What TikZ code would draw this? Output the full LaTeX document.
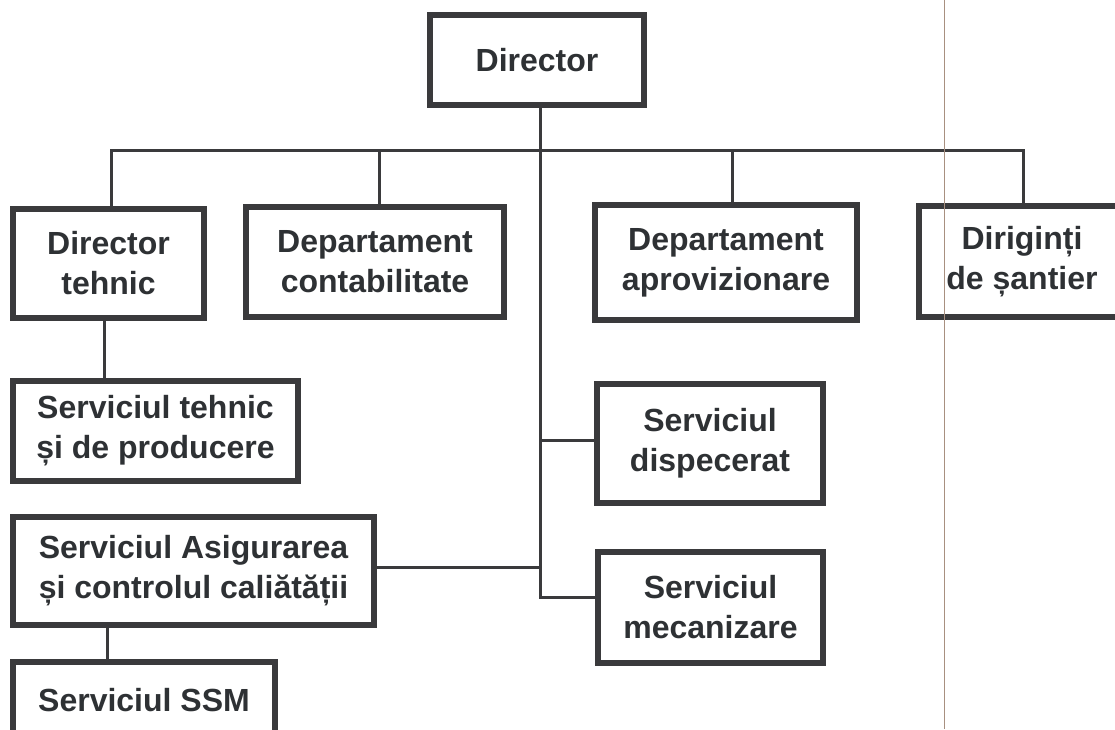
\documentclass[tikz,border=0pt]{standalone}
\usepackage{fontspec}
\setmainfont{Liberation Sans}
\definecolor{boxline}{HTML}{3A3A3C}
\definecolor{txt}{HTML}{2E3134}
\definecolor{crease}{HTML}{A89080}
\begin{document}
\begin{tikzpicture}[x=1pt,y=-1pt,
  orgbox/.style={draw=boxline, line width=5.5pt, inner sep=0pt, align=center,
    text=txt, font=\fontsize{32}{40}\selectfont\bfseries, miter limit=10},
  link/.style={draw=boxline, line width=3pt}]
\useasboundingbox (0,0) rectangle (1115,729);
\clip (0,0) rectangle (1115,729);
\fill[white] (0,0) rectangle (1115,729);

% boxes
\node[orgbox, minimum width=214pt, minimum height=90pt] (dir) at (537,60) {Director};
\node[orgbox, minimum width=191pt, minimum height=109pt] (dt) at (108.5,263.5) {Director\\tehnic};
\node[orgbox, minimum width=258pt, minimum height=110pt] (dc) at (375,262) {Departament\\contabilitate};
\node[orgbox, minimum width=262pt, minimum height=115pt] (da) at (726,262.5) {Departament\\aprovizionare};
\node[orgbox, minimum width=206pt, minimum height=111pt] (dd) at (1022,261.5) {Diriginți\\de șantier};
\node[orgbox, minimum width=285pt, minimum height=100pt] (st) at (155.5,431) {Serviciul tehnic\\și de producere};
\node[orgbox, minimum width=361pt, minimum height=108pt] (sa) at (193.5,571) {Serviciul Asigurarea\\și controlul caliătății};
\node[orgbox, minimum width=262pt, minimum height=76pt, anchor=north] (ssm) at (144,659) {Serviciul SSM};
\node[orgbox, minimum width=226pt, minimum height=119pt] (sd) at (710,443.5) {Serviciul\\dispecerat};
\node[orgbox, minimum width=225pt, minimum height=111pt] (sm) at (710.5,607.5) {Serviciul\\mecanizare};

% bend points
\coordinate (bl) at (111,150);
\coordinate (br) at (1023,150);
\coordinate (bc) at (379,150);
\coordinate (ba) at (732,150);
\coordinate (tend) at (540,597);
\coordinate (tsd) at (540,440);
\coordinate (tsa) at (540,567);
\coordinate (xst) at (104,0);
\coordinate (xssm) at (107,0);

% connectors
\draw[link] (dt.north -| bl) -- (bl) -- (br) -- (dd.north -| br);
\draw[link] (bc) -- (bc |- dc.north);
\draw[link] (ba) -- (ba |- da.north);
\draw[link] (dir.south -| tend) -- (tend) -- (tend -| sm.west);
\draw[link] (tsd) -- (tsd -| sd.west);
\draw[link] (sa.east |- tsa) -- (tsa);
\draw[link] (dt.south -| xst) -- (st.north -| xst);
\draw[link] (sa.south -| xssm) -- (ssm.north -| xssm);

% scanner crease
\draw[crease, line width=0.7pt] (944,0) -- (944,729);
\end{tikzpicture}
\end{document}
